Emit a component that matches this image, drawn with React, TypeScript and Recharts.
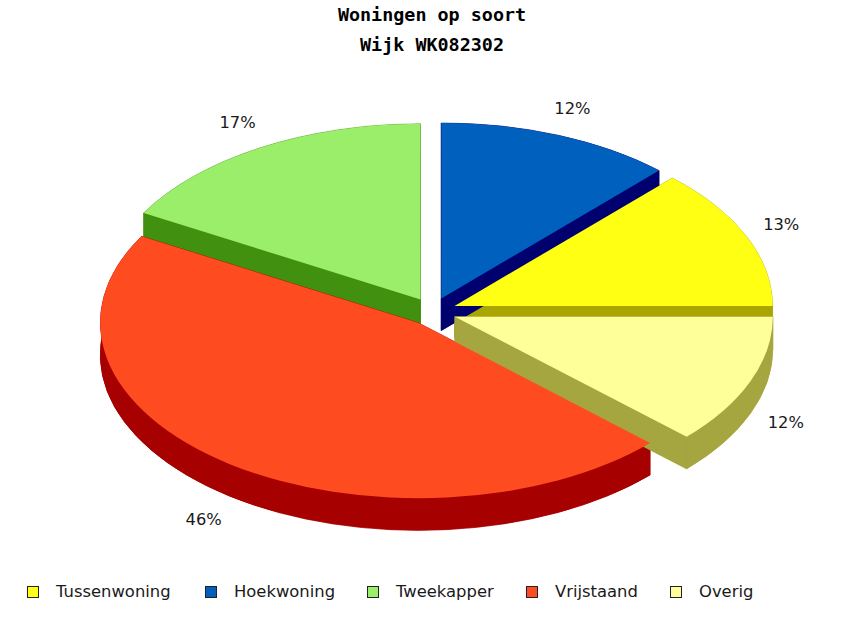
import { Cell, Legend, Pie, PieChart } from "recharts";

const CATEGORIES = ["Tussenwoning", "Hoekwoning", "Tweekapper", "Vrijstaand", "Overig"];
const SHARES = [13, 12, 16.8, 46.2, 12];
const TOP_COLORS = ["#FFFF14", "#0060BE", "#9BEE6A", "#FF4B20", "#FFFF99"];
const SIDE_COLORS = ["#AAA500", "#00006E", "#429010", "#A60000", "#A6A640"];
const TITLE_LINES = ["Woningen op soort", "Wijk WK082302"];
const LEGEND_PITCH = [178, 162, 159, 144, 100];

const pieData = CATEGORIES.map((name, i) => ({ name, value: SHARES[i] }));

// flattening of the pie and the 3d look
const SQUASH = 0.552;
const DEPTH = 32;
const EXPLODE_X = 24;
const EXPLODE_Y = 14;

const rad = (deg: number) => (deg * Math.PI) / 180;

function sectorGeometry(props: any) {
  const a = props.outerRadius;
  const b = a * SQUASH;
  const x0 = props.cx + EXPLODE_X * Math.cos(rad(props.midAngle));
  const y0 = props.cy - EXPLODE_Y * Math.sin(rad(props.midAngle));
  const at = (deg: number) => ({
    x: x0 + a * Math.cos(rad(deg)),
    y: y0 - b * Math.sin(rad(deg))
  });
  const from = at(props.startAngle);
  const to = at(props.endAngle);
  const large = Math.abs(props.endAngle - props.startAngle) > 180 ? 1 : 0;
  return { a, b, x0, y0, from, to, large };
}

function TopFace(props: any) {
  const { a, b, x0, y0, from, to, large } = sectorGeometry(props);
  return (
    <path
      d={`M${x0},${y0} L${from.x},${from.y} A${a},${b} 0 ${large} 0 ${to.x},${to.y} Z`}
      fill={props.fill}
    />
  );
}

function SideFaces(props: any) {
  const { a, b, x0, y0, from, to, large } = sectorGeometry(props);
  const fill = SIDE_COLORS[CATEGORIES.indexOf(props.name)];
  const d = DEPTH;
  return (
    <g fill={fill} stroke={fill} strokeWidth={0.5}>
      <path d={`M${x0},${y0 + d} L${from.x},${from.y + d} A${a},${b} 0 ${large} 0 ${to.x},${to.y + d} Z`} />
      <path d={`M${x0},${y0} L${from.x},${from.y} L${from.x},${from.y + d} L${x0},${y0 + d} Z`} />
      <path d={`M${x0},${y0} L${to.x},${to.y} L${to.x},${to.y + d} L${x0},${y0 + d} Z`} />
      <path
        d={`M${from.x},${from.y} A${a},${b} 0 ${large} 0 ${to.x},${to.y} L${to.x},${to.y + d} A${a},${b} 0 ${large} 1 ${from.x},${from.y + d} Z`}
      />
    </g>
  );
}

function renderLabel(props: any) {
  const sin = Math.sin(rad(props.midAngle));
  const cos = Math.cos(rad(props.midAngle));
  // labels on the left sit a bit further out
  const x = props.cx + 1.195 * props.outerRadius * cos + (cos < 0 ? -3.5 : 0);
  const y =
    props.cy -
    1.2 * props.outerRadius * SQUASH * sin * (sin < 0 ? 1.055 : 1.04) +
    (sin < 0 ? DEPTH - 3 : 0);
  return (
    <text
      x={x}
      y={y}
      dy={6}
      fill="#1a1a1a"
      fontFamily="DejaVu Sans"
      fontSize={16.3}
      textAnchor="middle"
    >
      {`${Math.round(props.percent * 100)}%`}
    </text>
  );
}

function ChartLegend() {
  return (
    <div
      style={{
        display: "flex",
        alignItems: "center",
        paddingLeft: 27,
        fontFamily: "DejaVu Sans",
        fontSize: 16.4,
        color: "#1a1a1a",
        whiteSpace: "nowrap"
      }}
    >
      {CATEGORIES.map((name, i) => (
        <div
          key={name}
          style={{ display: "flex", alignItems: "center", gap: 17, width: LEGEND_PITCH[i], flex: "none" }}
        >
          <span
            style={{
              width: 10,
              height: 10,
              border: "1.5px solid #222",
              background: TOP_COLORS[i]
            }}
          />
          <span>{name}</span>
        </div>
      ))}
    </div>
  );
}

export default function App() {
  return (
    <div style={{ position: "absolute", left: 0, top: 0, width: 849, height: 618, background: "#fff" }}>
      <PieChart width={849} height={618} margin={{ top: 0, right: 0, bottom: 0, left: 0 }}>
        {TITLE_LINES.map((line, i) => (
          <text
            key={line}
            x={432}
            y={21 + i * 30}
            fill="#000"
            fontFamily="DejaVu Sans Mono"
            fontSize={18.4}
            fontWeight="bold"
            textAnchor="middle"
          >
            {line}
          </text>
        ))}
        <Pie
          data={pieData}
          dataKey="value"
          nameKey="name"
          cx={432.5}
          cy={311.5}
          outerRadius={318}
          startAngle={0}
          endAngle={360}
          stroke="none"
          legendType="none"
          label={false}
          labelLine={false}
          shape={SideFaces}
          isAnimationActive={false}
        />
        <Pie
          data={pieData}
          dataKey="value"
          nameKey="name"
          cx={432.5}
          cy={311.5}
          outerRadius={318}
          startAngle={0}
          endAngle={360}
          stroke="none"
          label={renderLabel}
          labelLine={false}
          shape={TopFace}
          isAnimationActive={false}
        >
          {CATEGORIES.map((name, i) => (
            <Cell key={name} fill={TOP_COLORS[i]} />
          ))}
        </Pie>
        <Legend
          content={<ChartLegend />}
          layout="horizontal"
          verticalAlign="bottom"
          wrapperStyle={{ left: 0, top: 582, width: 849 }}
        />
      </PieChart>
    </div>
  );
}
